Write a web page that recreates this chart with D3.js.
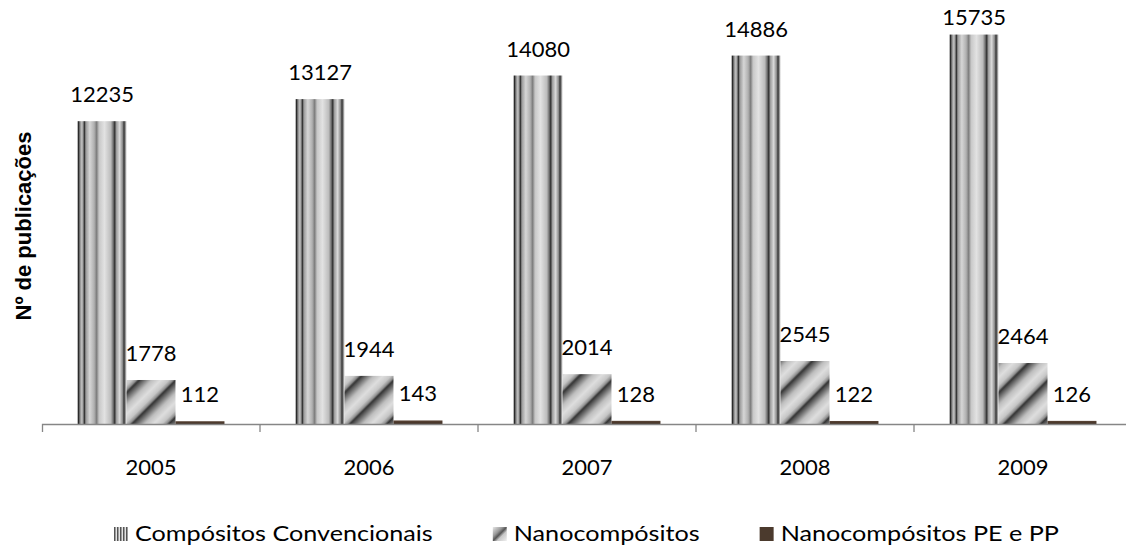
<!DOCTYPE html>
<html>
<head>
<meta charset="utf-8">
<script src="https://cdn.jsdelivr.net/npm/d3@7"></script>
<style>
  html, body { margin: 0; padding: 0; background: #fff; }
  svg { display: block; }
  text { font-family: Lato, "Open Sans", sans-serif; fill: #000; }
</style>
</head>
<body>
<div id="chart"></div>
<script>
// data
const years = ["2005", "2006", "2007", "2008", "2009"];
const seriesNames = ["Compósitos Convencionais", "Nanocompósitos", "Nanocompósitos PE e PP"];
const convencionais = [12235, 13127, 14080, 14886, 15735];
const nanocompositos = [1778, 1944, 2014, 2545, 2464];
const nanoPePp = [112, 143, 128, 122, 126];

(function () {
  const W = 1126, H = 548;
  const plot = { left: 42, right: 1132, top: 28, bottom: 424 };

  const svg = d3.select("#chart").append("svg")
    .attr("width", W)
    .attr("height", H);

  const defs = svg.append("defs");

  // vertical stripes (conventional composites), one pass across the bar
  const gConv = defs.append("linearGradient")
    .attr("id", "g-conv")
    .attr("x1", 0).attr("y1", 0).attr("x2", 1).attr("y2", 0);
  [[0, "#6a6a6a"], [0.02, "#2a2a2a"], [0.05, "#8a8a8a"], [0.09, "#c8c8c8"],
   [0.12, "#7a7a7a"], [0.14, "#2e2e2e"], [0.17, "#9a9a9a"], [0.25, "#d6d6d6"],
   [0.34, "#b0b0b0"], [0.39, "#7d7d7d"], [0.44, "#c8c8c8"], [0.55, "#e2e2e2"],
   [0.68, "#bcbcbc"], [0.73, "#6e6e6e"], [0.76, "#2e2e2e"], [0.79, "#9a9a9a"],
   [0.86, "#dadada"], [0.92, "#8a8a8a"], [0.95, "#303030"], [0.98, "#9a9a9a"],
   [1, "#d0d0d0"]].forEach(s =>
    gConv.append("stop").attr("offset", s[0]).attr("stop-color", s[1]));

  // diagonal stripes (nanocomposites)
  const gNano = defs.append("linearGradient")
    .attr("id", "g-nano-stripe")
    .attr("x1", 0).attr("y1", 0).attr("x2", 1).attr("y2", 0);
  [[0, "#2e2e2e"], [0.1, "#5a5a5a"], [0.35, "#bebebe"], [0.6, "#dedede"],
   [0.82, "#c6c6c6"], [0.94, "#8e8e8e"], [1, "#3a3a3a"]].forEach(s =>
    gNano.append("stop").attr("offset", s[0]).attr("stop-color", s[1]));

  defs.append("pattern")
    .attr("id", "p-nano")
    .attr("patternUnits", "userSpaceOnUse")
    .attr("width", 26).attr("height", 26)
    .attr("patternTransform", "rotate(45)")
    .append("rect")
    .attr("width", 26).attr("height", 26)
    .attr("fill", "url(#g-nano-stripe)");

  // brown bar
  const gBrown = defs.append("linearGradient")
    .attr("id", "g-brown")
    .attr("x1", 0).attr("y1", 0).attr("x2", 0).attr("y2", 1);
  gBrown.append("stop").attr("offset", 0).attr("stop-color", "#5a4536");
  gBrown.append("stop").attr("offset", 1).attr("stop-color", "#3e2e23");

  // legend swatches
  const pLines = defs.append("pattern")
    .attr("id", "p-lines")
    .attr("patternUnits", "userSpaceOnUse")
    .attr("width", 3).attr("height", 3);
  pLines.append("rect").attr("width", 3).attr("height", 3).attr("fill", "#e4e4e4");
  pLines.append("rect").attr("width", 1.5).attr("height", 3).attr("fill", "#555");

  const gLegNano = defs.append("linearGradient")
    .attr("id", "g-leg-nano")
    .attr("x1", 0).attr("y1", 0).attr("x2", 1).attr("y2", 1);
  [[0, "#e8e8e8"], [0.35, "#9a9a9a"], [0.5, "#555"], [0.65, "#c8c8c8"], [1, "#f0f0f0"]]
    .forEach(s => gLegNano.append("stop").attr("offset", s[0]).attr("stop-color", s[1]));

  const fills = ["url(#g-conv)", "url(#p-nano)", "url(#g-brown)"];
  const legendFills = ["url(#p-lines)", "url(#g-leg-nano)", "#4b3a2d"];

  const x = d3.scaleBand()
    .domain(years)
    .range([plot.left, plot.right])
    .paddingInner(0.326)
    .paddingOuter(0.163);

  const xSub = d3.scaleBand()
    .domain(seriesNames)
    .range([0, x.bandwidth()]);

  const y = d3.scaleLinear()
    .domain([0, 16000])
    .range([plot.bottom, plot.top]);

  const rows = years.map((yr, i) => ({
    year: yr,
    values: [convencionais[i], nanocompositos[i], nanoPePp[i]]
  }));

  // bars
  const groups = svg.selectAll(".grp")
    .data(rows)
    .join("g")
    .attr("class", "grp")
    .attr("transform", d => `translate(${x(d.year)},0)`);

  groups.selectAll("rect")
    .data(d => d.values.map((v, j) => ({ name: seriesNames[j], v, j })))
    .join("rect")
    .attr("x", d => xSub(d.name))
    .attr("y", d => y(d.v))
    .attr("width", xSub.bandwidth())
    .attr("height", d => y(0) - y(d.v))
    .attr("fill", d => fills[d.j]);

  // value labels, kept inside the chart area like Excel does
  groups.selectAll(".lbl")
    .data(d => d.values.map((v, j) => ({ name: seriesNames[j], v, j })))
    .join("text")
    .attr("class", "lbl")
    .attr("x", d => xSub(d.name) + xSub.bandwidth() / 2)
    .attr("y", d => Math.max(y(d.v) - 19, 25))
    .attr("text-anchor", "middle")
    .style("font-size", "22px")
    .text(d => d.v);

  // x axis: line with category ticks on boundaries
  const xAxis = svg.append("g")
    .attr("transform", `translate(0,${plot.bottom})`)
    .call(d3.axisBottom(x).tickSizeInner(0).tickSizeOuter(8).tickPadding(0));

  xAxis.select(".domain").attr("stroke", "#868686").attr("stroke-width", 1.3);
  xAxis.selectAll(".tick text")
    .attr("y", 51)
    .attr("dy", 0)
    .style("font-family", "Lato, sans-serif")
    .style("font-size", "22px")
    .attr("fill", "#000");

  const step = x.step();
  xAxis.selectAll(".sep")
    .data(years.slice(1))
    .join("line")
    .attr("class", "sep")
    .attr("x1", d => x(d) - step * x.paddingInner() / 2)
    .attr("x2", d => x(d) - step * x.paddingInner() / 2)
    .attr("y1", 0)
    .attr("y2", 8)
    .attr("stroke", "#868686")
    .attr("stroke-width", 1.3);

  // y axis title
  svg.append("text")
    .attr("transform", `translate(31,${(plot.top + plot.bottom) / 2}) rotate(-90)`)
    .attr("text-anchor", "middle")
    .style("font-family", "'Liberation Sans', Arial, sans-serif")
    .style("font-weight", "bold")
    .style("font-size", "22px")
    .text("Nº de publicações");

  // legend: laid out left to right, text a little wider like the original
  const stretch = 1.145;
  const legend = svg.append("g").attr("transform", "translate(0,527)");
  let lx = 114;
  seriesNames.forEach((name, i) => {
    legend.append("rect")
      .attr("x", lx)
      .attr("width", 14)
      .attr("height", 14)
      .attr("fill", legendFills[i]);
    const t = legend.append("text")
      .attr("transform", `translate(${lx + 21},14) scale(${stretch},1)`)
      .style("font-size", "22px")
      .text(name);
    lx += 21 + t.node().getComputedTextLength() * stretch + 60;
  });
})();
</script>
</body>
</html>
